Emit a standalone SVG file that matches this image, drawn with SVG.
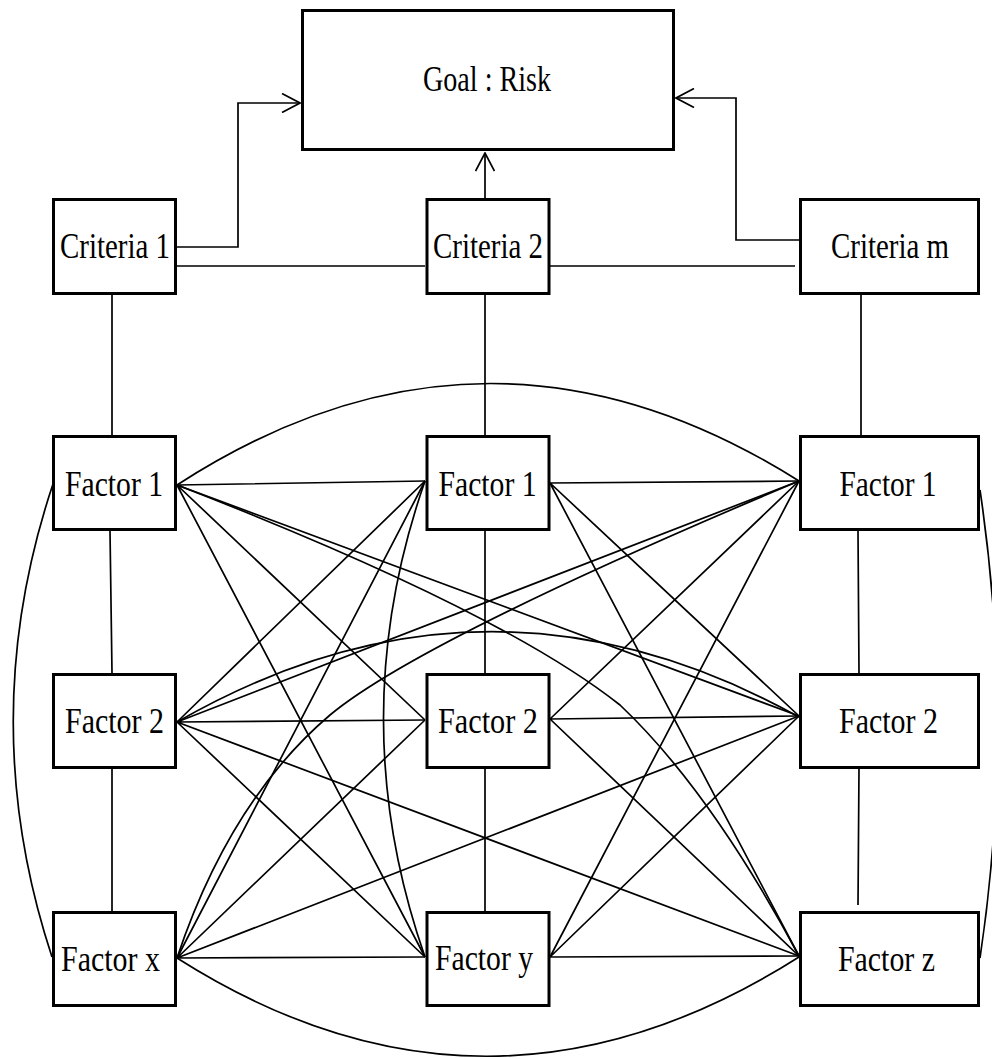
<svg xmlns="http://www.w3.org/2000/svg" width="992" height="1059" viewBox="0 0 992 1059">
<style>
.c{fill:none;stroke:#000;stroke-width:1.7}
.b{fill:#fff;stroke:#000;stroke-width:3}
.t{font-family:"Liberation Serif","Times New Roman",serif;font-size:36px;fill:#000;text-anchor:middle}
</style>
<defs>
<marker id="arr" viewBox="0 0 20 20" refX="19" refY="10" markerWidth="20" markerHeight="20" markerUnits="userSpaceOnUse" orient="auto">
<path d="M1,0.5 L19,10 L1,19.5" fill="none" stroke="#000" stroke-width="1.7"/>
</marker>
</defs>
<rect width="992" height="1059" fill="#fff"/>
<g id="connectors">
<path class="c" d="M176,247 H238 V103 H300" marker-end="url(#arr)"/>
<path class="c" d="M485,198 V153" marker-end="url(#arr)"/>
<path class="c" d="M799,240 H736 V98 H676" marker-end="url(#arr)"/>
<path class="c" d="M176,266 H425 M550,266 H795"/>
<path class="c" d="M112,293 V435 M485,293 V435 M861,293 V435"/>
<path class="c" d="M110,531 L112,673 M112,768 V911 M485,531 V673 M485,768 V911 M858,531 L859,673 M859,768 L858,905"/>
<path class="c" d="M177,485 L425,481 M177,485 L425,720 M177,485 L425,957 M177,485 L799,716"/>
<path class="c" d="M177,722 L425,481 M177,722 L425,720 M177,722 L425,957 M177,722 L799,481 M177,722 L799,956"/>
<path class="c" d="M177,958 L425,481 M177,958 L425,720 M177,958 L425,957 M177,958 L799,716"/>
<path class="c" d="M550,483 L799,481 M550,483 L799,716 M550,483 L799,956"/>
<path class="c" d="M550,719 L799,481 M550,719 L799,716 M550,719 L799,956"/>
<path class="c" d="M550,957 L799,481 M550,957 L799,716 M550,957 L799,956"/>
<path class="c" d="M177,485 Q487,284 799,481"/>
<path class="c" d="M177,722 Q487,544 799,717"/>
<path class="c" d="M177,958 Q487,1155 799,957"/>
<path class="c" d="M53,484 Q-26,720 52,957"/>
<path class="c" d="M980,490 Q1015,725 980,958"/>
<path class="c" d="M425,481 Q342,719 425,957"/>
<path class="c" d="M177,485 Q500,610 620,705 Q710,790 799,956"/>
<path class="c" d="M177,958 Q230,800 330,715 Q420,640 799,481"/>
</g>
<g id="goal"><rect class="b" x="302.5" y="10.5" width="371" height="139"/><text class="t" x="487" y="91" textLength="128" lengthAdjust="spacingAndGlyphs">Goal : Risk</text></g>
<g id="criteria1"><rect class="b" x="53.5" y="199.5" width="122" height="94"/><text class="t" x="115" y="258" textLength="110" lengthAdjust="spacingAndGlyphs">Criteria 1</text></g>
<g id="criteria2"><rect class="b" x="427" y="199.5" width="122" height="94"/><text class="t" x="488" y="258" textLength="110" lengthAdjust="spacingAndGlyphs">Criteria 2</text></g>
<g id="criteriam"><rect class="b" x="800.5" y="199.5" width="178" height="94"/><text class="t" x="890" y="258" textLength="118" lengthAdjust="spacingAndGlyphs">Criteria m</text></g>
<g id="factor-l1"><rect class="b" x="53.5" y="436.5" width="122" height="93"/><text class="t" x="114" y="496" textLength="98" lengthAdjust="spacingAndGlyphs">Factor 1</text></g>
<g id="factor-l2"><rect class="b" x="53.5" y="674.5" width="122" height="93"/><text class="t" x="114.5" y="733" textLength="99" lengthAdjust="spacingAndGlyphs">Factor 2</text></g>
<g id="factor-x"><rect class="b" x="53.5" y="912.5" width="122" height="93"/><text class="t" x="110.5" y="971" textLength="99" lengthAdjust="spacingAndGlyphs">Factor x</text></g>
<g id="factor-m1"><rect class="b" x="427" y="436.5" width="122" height="93"/><text class="t" x="487.5" y="496" textLength="98" lengthAdjust="spacingAndGlyphs">Factor 1</text></g>
<g id="factor-m2"><rect class="b" x="427" y="674.5" width="122" height="93"/><text class="t" x="488" y="733" textLength="100" lengthAdjust="spacingAndGlyphs">Factor 2</text></g>
<g id="factor-y"><rect class="b" x="427" y="912.5" width="122" height="93"/><text class="t" x="484" y="970" textLength="98" lengthAdjust="spacingAndGlyphs">Factor y</text></g>
<g id="factor-r1"><rect class="b" x="800.5" y="436.5" width="178" height="93"/><text class="t" x="888" y="496" textLength="97" lengthAdjust="spacingAndGlyphs">Factor 1</text></g>
<g id="factor-r2"><rect class="b" x="800.5" y="674.5" width="178" height="93"/><text class="t" x="888.5" y="733" textLength="99" lengthAdjust="spacingAndGlyphs">Factor 2</text></g>
<g id="factor-z"><rect class="b" x="800.5" y="912.5" width="178" height="93"/><text class="t" x="886.5" y="971" textLength="97" lengthAdjust="spacingAndGlyphs">Factor z</text></g>
</svg>
